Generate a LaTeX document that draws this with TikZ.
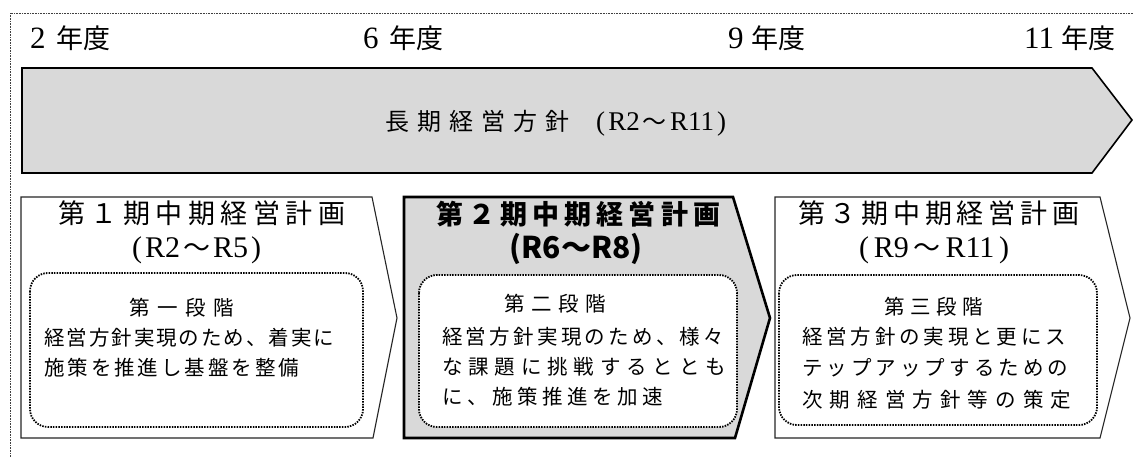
\documentclass[tikz,border=0pt]{standalone}
\usepackage{fontspec}
\newfontfamily\jp{Noto Sans CJK JP}
\newfontfamily\lsr{Liberation Serif}
\makeatletter
\def\spr@loop#1{\ifx\relax#1\else#1\hfil\expandafter\spr@loop\fi}
\newcommand\spreadtext[2]{\hbox to #1{\spr@loop#2\relax\unskip}}
\makeatother
\newcommand\fsz[1]{\fontsize{#1}{#1}\selectfont}
\definecolor{panelgray}{HTML}{D9D9D9}
\tikzset{
  frame/.style={draw=black!75, line width=0.8pt, dash pattern=on 0.8pt off 0.8pt},
  longarrow/.style={draw=black, line width=1.6pt, fill=panelgray, line join=miter},
  plan/.style={draw=black!85, line width=1.1pt, fill=white},
  plantwo/.style={draw=black, line width=2.6pt, fill=panelgray},
  stage/.style={draw=black, line width=1.8pt, dash pattern=on 1.5pt off 1.2pt, fill=white, rounded corners=18pt},
  txt/.style={inner sep=0pt, anchor=base west, text=black},
  yr/.style={txt, font=\jp\fsz{27}},
  ttl/.style={txt, font=\jp\fsz{27}},
  ttlb/.style={txt, font=\jp\bfseries\fsz{27}},
  inr/.style={txt, font=\jp\fsz{20.5}},
}
\begin{document}
\begin{tikzpicture}[x=1pt,y=-1pt]
\useasboundingbox (0,0) rectangle (1133,457);
\draw[frame] (10,457) -- (10,13) -- (1133,13);

% year labels
\node[yr] (y2) at (30,49) {\hbox to 80pt{\lsr\fsz{31}2\hfil\jp\fsz{27}年度}};
\node[yr] (y6) at (363,49) {\hbox to 80pt{\lsr\fsz{31}6\hfil\jp\fsz{27}年度}};
\node[yr] (y9) at (728,49) {\hbox to 77pt{\lsr\fsz{31}9\hfil\jp\fsz{27}年度}};
\node[yr] (y11) at (1024,49) {\hbox to 91pt{\lsr\fsz{31}11\hfil\jp\fsz{27}年度}};

% long-term arrow
\draw[longarrow] (22,68) -- (1092,68) -- (1132,120) -- (1092,173) -- (22,173) -- cycle;
\node[txt, font=\jp\fsz{24}] (lt) at (385,131) {\spreadtext{184pt}{長期経営方針}};
\node[txt, font=\lsr\fsz{27}] (ltr) at (596,131) {\hbox to 130pt{(\hfil R2\hfil\jp\fsz{24}〜\hfil\lsr\fsz{27}R11\hfil)}};

% plan panels
\draw[plan] (21,197) -- (372,197) -- (397,318) -- (373,438) -- (21,438) -- cycle;
\draw[plan] (775,197) -- (1100,197) -- (1130,318) -- (1100,438) -- (775,438) -- cycle;
\draw[plantwo] (404,197) -- (733,197) -- (770,318) -- (735,438) -- (404,438) -- cycle;

% titles
\node[ttl] (t1) at (58,224) {\spreadtext{287pt}{第１期中期経営計画}};
\node[txt, font=\lsr\fsz{30}] (r1) at (132,258) {\hbox to 129pt{(\hfil R2\hfil\jp\fsz{27}〜\hfil\lsr\fsz{30}R5\hfil)}};
\node[ttlb] (t2) at (436,225) {\spreadtext{284pt}{第２期中期経営計画}};
\node[txt, anchor=base, font=\jp\bfseries\fsz{30}] (r2) at (576,259) {(R6〜R8)};
\node[ttl] (t3) at (798,224) {\spreadtext{281pt}{第３期中期経営計画}};
\node[txt, font=\lsr\fsz{30}] (r3) at (859,258) {\hbox to 150pt{(\hfil R9\hfil\jp\fsz{27}〜\hfil\lsr\fsz{30}R11\hfil)}};

% stage boxes
\draw[stage] (30,273) rectangle (363,427);
\draw[stage] (419,275) rectangle (737,427);
\draw[stage] (779,275) rectangle (1097,425);

\node[inr] (h1) at (129,315) {\spreadtext{105pt}{第一段階}};
\node[inr] (a1) at (44,345) {\spreadtext{290pt}{経営方針実現のため、着実に}};
\node[inr] (a2) at (44,375) {\spreadtext{255pt}{施策を推進し基盤を整備}};

\node[inr] (h2) at (504,312) {\spreadtext{102pt}{第二段階}};
\node[inr] (b1) at (442,344) {\spreadtext{282pt}{経営方針実現のため、様々}};
\node[inr] (b2) at (442,374) {\spreadtext{284pt}{な課題に挑戦するととも}};
\node[inr] (b3) at (442,404) {\spreadtext{221pt}{に、施策推進を加速}};

\node[inr] (h3) at (884,314) {\spreadtext{99pt}{第三段階}};
\node[inr] (c1) at (802,344) {\spreadtext{264pt}{経営方針の実現と更にス}};
\node[inr] (c2) at (802,375) {\spreadtext{266pt}{テップアップするための}};
\node[inr] (c3) at (802,407) {\spreadtext{269pt}{次期経営方針等の策定}};
\end{tikzpicture}
\end{document}
